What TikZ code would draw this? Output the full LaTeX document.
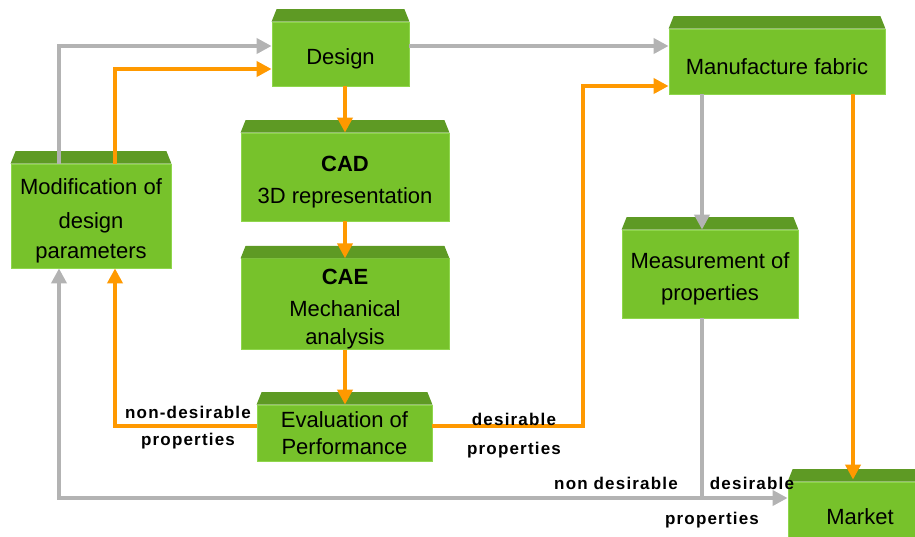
\documentclass[tikz,border=0pt]{standalone}
\usepackage{fontspec}
\setmainfont{Liberation Sans}
\newfontfamily\lblfamily[LetterSpace=7]{Liberation Sans}
\usetikzlibrary{arrows.meta}
\definecolor{facegreen}{HTML}{77C22B}
\definecolor{edgegreen}{HTML}{8FD64C}
\definecolor{bevelgreen}{HTML}{5E9A24}
\definecolor{lgray}{HTML}{B3B3B3}
\definecolor{lorange}{HTML}{FF9900}
\newcommand\mybevel[1]{\fill[bevelgreen] (#1.north west) -- ([shift={(5pt,12.5pt)}]#1.north west) -- ([shift={(-5pt,12.5pt)}]#1.north east) -- (#1.north east) -- cycle;}
\newcommand\up{\rule{0pt}{26pt}}
\tikzset{
  box/.style={draw=edgegreen, line width=0.8pt, fill=facegreen, align=center, inner sep=0pt,
    font=\fontsize{22}{32}\selectfont},
  lbl/.style={font=\lblfamily\bfseries\fontsize{17}{20}\selectfont, inner sep=0pt},
  garrow/.style={draw=lgray, line width=4pt, -{Triangle[length=15pt,width=15pt]}},
  gline/.style={draw=lgray, line width=4pt},
  oarrow/.style={draw=lorange, line width=4pt, -{Triangle[length=15pt,width=15pt]}},
}
\begin{document}
\begin{tikzpicture}[x=1pt,y=-1pt]
\useasboundingbox (0,0) rectangle (915,536);
% boxes
\node[box, minimum width=137pt, minimum height=64pt] (design) at (340.5,54) {\up Design};
\node[box, minimum width=208pt, minimum height=88pt] (cad) at (345,177) {\up\textbf{CAD}\\3D representation};
\node[box, minimum width=208pt, minimum height=88pt] (cae) at (345,304) {\up\textbf{CAE}\\Mechanical\\[-4pt]analysis};
\node[box, minimum width=160pt, minimum height=104pt] (mod) at (91,216) {\up Modification of\\[2pt]design\\[-2pt]parameters};
\node[box, minimum width=175pt, minimum height=56pt, font=\fontsize{22}{27}\selectfont] (eval) at (344.5,433) {Evaluation of\\Performance};
\node[box, minimum width=216pt, minimum height=65pt] (manu) at (777,61.5) {\up Manufacture fabric};
\node[box, minimum width=176pt, minimum height=88pt] (meas) at (710,274) {\up Measurement of\\properties};
\node[box, minimum width=144pt, minimum height=70pt] (market) at (860,517) {Market};
\foreach \b in {design,cad,cae,mod,eval,manu,meas,market} {\mybevel{\b}}
% connectors
\draw[garrow] ([xshift=-32pt]mod.north) |- ([yshift=8pt]design.west);
\draw[oarrow] ([xshift=24pt]mod.north) |- ([yshift=-15pt]design.west);
\draw[garrow] ([yshift=8pt]design.east) -- ([yshift=8pt]design.east -| manu.west);
\draw[oarrow] (cad.north |- design.south) -- (cad.north);
\draw[oarrow] (cad.south) -- (cae.north);
\draw[oarrow] (cae.south) -- (cae.south |- eval.north);
\draw[oarrow] ([yshift=7pt]eval.west) -| ([xshift=24pt]mod.south);
\coordinate (c1) at (583,86);
\draw[oarrow] ([yshift=7pt]eval.east) -| (c1) -- (c1 -| manu.west);
\draw[garrow] ([xshift=-8pt]meas.north |- manu.south) -- ([xshift=-8pt]meas.north);
\draw[oarrow] ([xshift=76pt]manu.south) -- ([xshift=76pt,yshift=2pt]manu.south |- market.north);
\coordinate (j) at (702,498);
\draw[gline] ([xshift=-8pt]meas.south) -- (j);
\draw[garrow] (j) -- (j -| market.west);
\draw[garrow] (j) -| ([xshift=-32pt]mod.south);
% labels
\node[lbl] (nd1) at (188,412) {non-desirable};
\node[lbl] (pr1) at (188,441) {properties};
\node[lbl] (ds1) at (514,419) {desirable};
\node[lbl] (pr2) at (514,450) {properties};
\node[lbl] (nd2) at (616,483) {non desirable};
\node[lbl] (ds2) at (752,483) {desirable};
\node[lbl] (pr3) at (712,520) {properties};
\end{tikzpicture}
\end{document}
